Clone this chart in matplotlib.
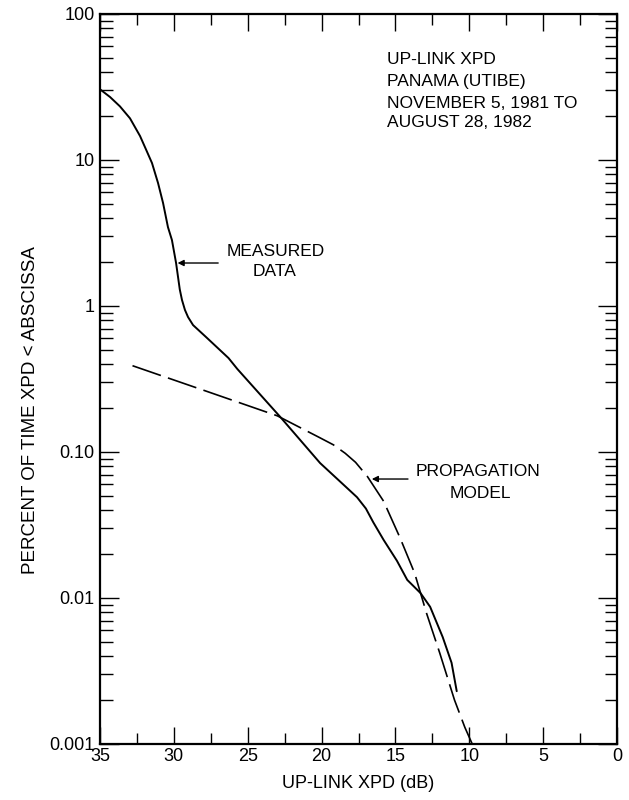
import matplotlib
matplotlib.use("Agg")
import matplotlib.pyplot as plt
from matplotlib.ticker import FixedLocator, FixedFormatter, LogLocator, MultipleLocator, NullFormatter

plt.rcParams['font.family'] = ['Liberation Sans', 'DejaVu Sans']

# Measured up-link XPD distribution (dB, percent of time)
measured_xpd = [35.0, 34.32, 33.65, 32.97, 32.29, 31.9, 31.48, 31.07, 30.73, 30.4,
                30.13, 29.85, 29.6, 29.45, 29.25, 29.04, 28.7, 27.8, 26.3, 25.7,
                22.8, 20.1, 18.3, 17.6, 17.0, 16.5, 15.8, 14.9, 14.2, 13.3, 12.65,
                11.8, 11.2, 10.85]
measured_pct = [30.5, 27.0, 23.3, 19.3, 14.6, 11.9, 9.53, 6.95, 5.07, 3.47,
                2.83, 1.97, 1.3, 1.1, 0.94, 0.84, 0.74, 0.61, 0.44, 0.37,
                0.174, 0.084, 0.057, 0.049, 0.041, 0.033, 0.025, 0.018, 0.0133, 0.0108, 0.0087,
                0.0054, 0.0036, 0.0023]

# Propagation model prediction
model_xpd = [32.8, 27.76, 23.0, 20.1, 19.2, 18.4, 17.7, 16.9, 15.8, 14.7, 13.7,
             12.9, 12.0, 11.0, 10.3, 9.8]
model_pct = [0.39, 0.26, 0.177, 0.125, 0.112, 0.098, 0.085, 0.068, 0.046, 0.026, 0.0148,
             0.0079, 0.0042, 0.0020, 0.0013, 0.001]

y_ticks = [0.001, 0.01, 0.1, 1, 10, 100]
y_tick_labels = ['0.001', '0.01', '0.10', '1', '10', '100']
x_ticks = [35, 30, 25, 20, 15, 10, 5, 0]
x_tick_labels = ['35', '30', '25', '20', '15', '10', '5', '0']

info_lines = ['UP-LINK XPD', 'PANAMA (UTIBE)', 'NOVEMBER 5, 1981 TO', 'AUGUST 28, 1982']

fig = plt.figure(figsize=(6.29, 8.0), dpi=100)
ax = fig.add_axes([100 / 629, 1 - 744 / 800, 517 / 629, 730 / 800])

ax.plot(measured_xpd, measured_pct, color='black', lw=1.4,
        solid_capstyle='round', solid_joinstyle='round')
dashed, = ax.plot(model_xpd, model_pct, color='black', lw=1.2)
dashed.set_dashes((18, 4.5))

ax.set_yscale('log')
ax.set_xlim(35, 0)
ax.set_ylim(0.001, 100)

ax.xaxis.set_major_locator(FixedLocator(x_ticks))
ax.xaxis.set_major_formatter(FixedFormatter(x_tick_labels))
ax.xaxis.set_minor_locator(MultipleLocator(2.5))
ax.yaxis.set_major_locator(FixedLocator(y_ticks))
ax.yaxis.set_major_formatter(FixedFormatter(y_tick_labels))
ax.yaxis.set_minor_locator(LogLocator(base=10, subs=range(2, 10)))
ax.yaxis.set_minor_formatter(NullFormatter())

for s in ax.spines.values():
    s.set_linewidth(1.6)

ax.tick_params(axis='both', which='both', direction='in', top=True, right=True,
               color='black', width=1.0, labelsize=13)
ax.tick_params(axis='y', which='major', length=14, pad=4)
ax.tick_params(axis='y', which='minor', length=9)
ax.tick_params(axis='x', which='major', length=12, pad=3)
ax.tick_params(axis='x', which='minor', length=8)

# Axis titles
fig.text(31 / 629, 1 - 410 / 800, 'PERCENT OF TIME XPD < ABSCISSA', rotation=90,
         ha='center', va='center', fontsize=13.5)
fig.text(358 / 629, 1 - 783 / 800, 'UP-LINK XPD (dB)', ha='center', va='center', fontsize=13)

info_y = [0.937, 0.907, 0.877, 0.851]
for line, yy in zip(info_lines, info_y):
    ax.text(0.555, yy, line, transform=ax.transAxes, ha='left', va='center', fontsize=12.5)

# Curve annotations
arrow_kw = dict(arrowstyle='-|>', color='black', lw=1.0, mutation_scale=9, shrinkA=0, shrinkB=0)
ax.annotate('', xy=(29.75, 1.97), xytext=(27.0, 1.97), arrowprops=arrow_kw)
ax.text(23.08, 2.38, 'MEASURED', ha='center', va='center', fontsize=12.5)
ax.text(23.15, 1.71, 'DATA', ha='center', va='center', fontsize=12.5)

ax.annotate('', xy=(16.6, 0.0653), xytext=(14.15, 0.0653), arrowprops=arrow_kw)
ax.text(9.4, 0.074, 'PROPAGATION', ha='center', va='center', fontsize=12.5)
ax.text(9.27, 0.052, 'MODEL', ha='center', va='center', fontsize=12.5)

fig.savefig('out.png', dpi=100)
